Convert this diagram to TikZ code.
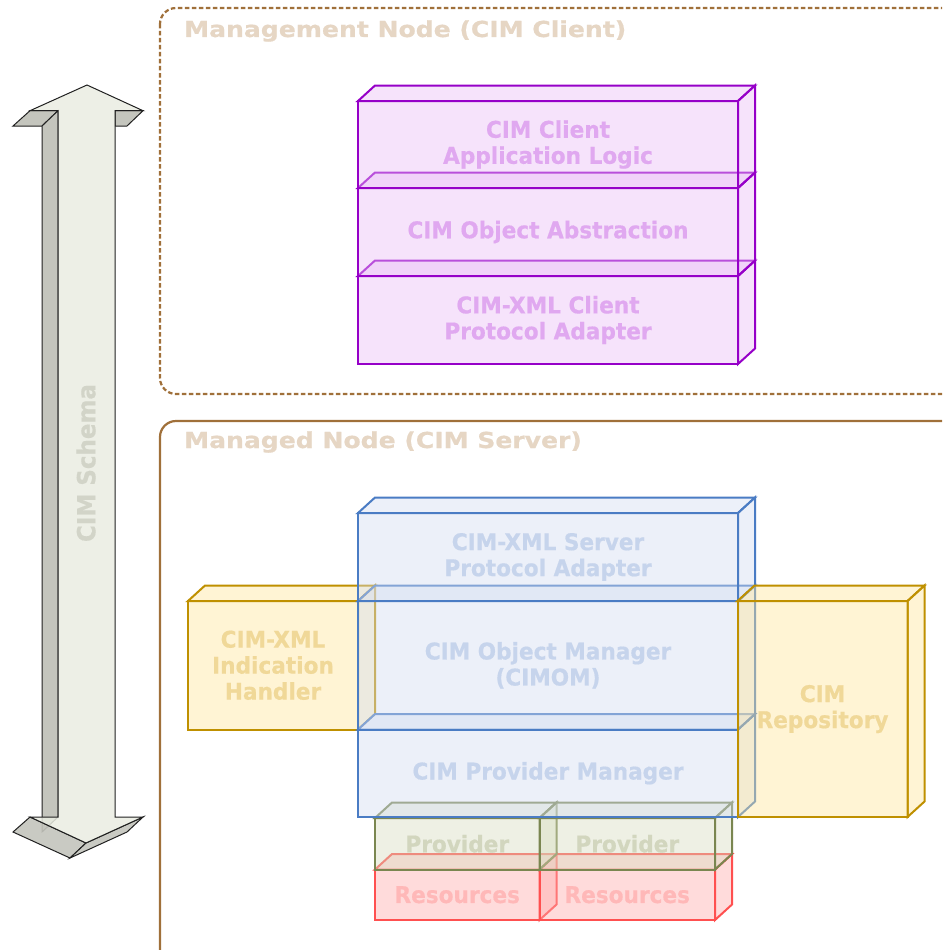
\documentclass[tikz,border=0pt]{standalone}
\usepackage{fontspec}
\newfontfamily\ttlfont[FakeStretch=1.14,FakeBold=0.6]{DejaVu Sans}
\newfontfamily\bxfont[FakeStretch=0.94,FakeBold=0.5]{DejaVu Sans}
\newfontfamily\scfont[FakeStretch=0.92,FakeBold=0.5]{DejaVu Sans}
\definecolor{frameline}{HTML}{A0703A}
\definecolor{titletext}{HTML}{E6D6C4}
\definecolor{arfront}{HTML}{EAEDE2}
\definecolor{arside}{HTML}{C4C5BD}
\definecolor{arline}{HTML}{202020}
\definecolor{schematext}{HTML}{D2D4C8}
\definecolor{pline}{HTML}{9600C8}
\definecolor{pfill}{HTML}{EBBDF7}
\definecolor{ptext}{HTML}{E0A8F0}
\definecolor{bline}{HTML}{4A7CC4}
\definecolor{bfill}{HTML}{D3DDF1}
\definecolor{btext}{HTML}{C6D4EC}
\definecolor{yline}{HTML}{BF9000}
\definecolor{yfill}{HTML}{FFE599}
\definecolor{ytext}{HTML}{F0D898}
\definecolor{gline}{HTML}{7A8650}
\definecolor{gfill}{HTML}{D7DDBF}
\definecolor{gtext}{HTML}{D2D6BE}
\definecolor{rline}{HTML}{FF5050}
\definecolor{rfill}{HTML}{FFABAB}
\definecolor{rtext}{HTML}{FFB8B8}
\newcommand\cubefaces[2]{%
  \draw[#2] (#1.north west) -- ([shift={(17,-15.5)}]#1.north west) -- ([shift={(17,-15.5)}]#1.north east) -- (#1.north east) -- cycle;
  \draw[#2] (#1.north east) -- ([shift={(17,-15.5)}]#1.north east) -- ([shift={(17,-15.5)}]#1.south east) -- (#1.south east) -- cycle;
}
\begin{document}
\begin{tikzpicture}[x=1pt,y=-1pt,
  frame/.style={draw=frameline, line width=2.2pt, rounded corners=16pt},
  ttl/.style={anchor=base west, inner sep=0pt, text=titletext, font=\ttlfont\bfseries\fontsize{22}{26}\selectfont},
  cbox/.style={rectangle, line width=2pt, outer sep=0pt, inner sep=0pt, fill opacity=0.42, text opacity=1, align=center, font=\bxfont\bfseries\fontsize{23}{26}\selectfont},
  pbox/.style={cbox, draw=pline, fill=pfill, text=ptext},
  bbox/.style={cbox, draw=bline, fill=bfill, text=btext},
  ybox/.style={cbox, draw=yline, fill=yfill, text=ytext},
  gbox/.style={cbox, draw=gline, fill=gfill, text=gtext},
  rbox/.style={cbox, draw=rline, fill=rfill, text=rtext},
  pface/.style={line width=2pt, draw=pline, fill=pfill, fill opacity=0.42, line join=miter},
  bface/.style={line width=2pt, draw=bline, fill=bfill, fill opacity=0.42, line join=miter},
  yface/.style={line width=2pt, draw=yline, fill=yfill, fill opacity=0.42, line join=miter},
  gface/.style={line width=2pt, draw=gline, fill=gfill, fill opacity=0.42, line join=miter},
  rface/.style={line width=2pt, draw=rline, fill=rfill, fill opacity=0.42, line join=miter},
  arrowpart/.style={draw=arline, line width=1pt, line join=miter}
]
\path[use as bounding box] (0,0) rectangle (942,950);
\clip (0,0) rectangle (942,950);
\fill[white] (0,0) rectangle (942,950);

% frames
\draw[frame, dash pattern=on 4.5pt off 2.5pt] (160,8) rectangle (962,394);
\draw[frame] (160,421) rectangle (962,968);
\node[ttl] (mgmttitle) at (184,37) {Management Node (CIM Client)};
\node[ttl] (managedtitle) at (184,448) {Managed Node (CIM Server)};

% CIM Schema arrow
\draw[arrowpart, fill=arside] (30,110.7) -- (13,126) -- (42,126) -- (58,110.7) -- cycle;
\draw[arrowpart, fill=arside] (143,110.7) -- (127,126) -- (115,126) -- (115,110.7) -- cycle;
\draw[arrowpart, fill=arside] (58,110.7) -- (42,126) -- (42,832) -- (58,817) -- cycle;
\draw[arrowpart, fill=arside, fill opacity=0.9] (30,817) -- (13,832) -- (70,858) -- (86,843) -- cycle;
\draw[arrowpart, fill=arside, fill opacity=0.9] (86,843) -- (70,858) -- (127,832) -- (143,817) -- cycle;
\draw[arrowpart, fill=arfront, fill opacity=0.85] (87,85) -- (143,110.7) -- (115,110.7) -- (115,817) -- (143,817) -- (86,843) -- (30,817) -- (58,817) -- (58,110.7) -- (30,110.7) -- cycle;
\node[rotate=90, inner sep=0pt, text=schematext, font=\scfont\bfseries\fontsize{25}{28}\selectfont] (schema) at (86,463) {CIM Schema};

% client stack
\node[pbox, minimum width=380, minimum height=88] (pa) at (548,320) {CIM-XML Client\\Protocol Adapter};
\cubefaces{pa}{pface}
\node[pbox, minimum width=380, minimum height=88] (po) at (548,232) {CIM Object Abstraction};
\cubefaces{po}{pface}
\node[pbox, minimum width=380, minimum height=87] (pl) at (548,144.5) {CIM Client\\Application Logic};
\cubefaces{pl}{pface}

% indication handler
\node[ybox, minimum width=170, minimum height=128.5] (ind) at (273,665.25) {CIM-XML\\Indication\\Handler};
\cubefaces{ind}{yface}

% resources and providers
\node[rbox, minimum width=164.5, minimum height=50.5] (res1) at (457.25,894.75) {Resources};
\cubefaces{res1}{rface}
\node[rbox, minimum width=175.5, minimum height=50.5] (res2) at (627.25,894.75) {Resources};
\cubefaces{res2}{rface}
\node[gbox, minimum width=164.5, minimum height=51.5] (prov1) at (457.25,843.75) {Provider};
\cubefaces{prov1}{gface}
\node[gbox, minimum width=175.5, minimum height=51.5] (prov2) at (627.25,843.75) {Provider};
\cubefaces{prov2}{gface}

% server stack
\node[bbox, minimum width=380, minimum height=87.5] (pm) at (548,773.25) {CIM Provider Manager};
\cubefaces{pm}{bface}
\node[bbox, minimum width=380, minimum height=128.5] (om) at (548,665.25) {CIM Object Manager\\(CIMOM)};
\cubefaces{om}{bface}
\node[bbox, minimum width=380, minimum height=88] (sa) at (548,557) {CIM-XML Server\\Protocol Adapter};
\cubefaces{sa}{bface}

% repository
\node[ybox, minimum width=170, minimum height=216] (repo) at (822.5,709) {CIM\\Repository};
\cubefaces{repo}{yface}
\end{tikzpicture}
\end{document}
